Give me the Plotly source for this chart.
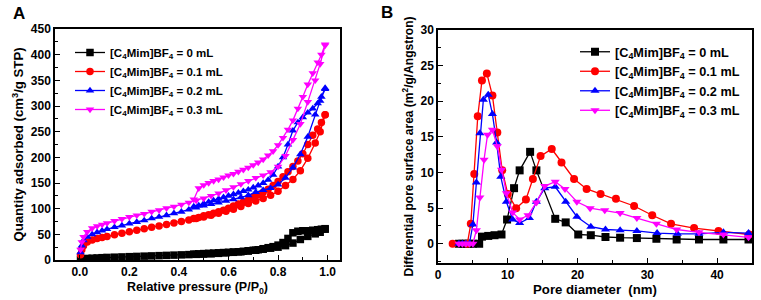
import plotly.graph_objects as go

W, H = 761, 300

# ---------------- Panel A: N2 isotherms ----------------
P_ADS = [0.003, 0.008, 0.015, 0.03, 0.05, 0.07, 0.09, 0.11, 0.14, 0.17, 0.20, 0.23, 0.26,
         0.29, 0.32, 0.35, 0.38, 0.41, 0.44, 0.47, 0.50, 0.53, 0.56, 0.59, 0.62, 0.65, 0.68,
         0.71, 0.74, 0.77, 0.80, 0.83, 0.86, 0.89, 0.92, 0.95, 0.97, 0.99]
P_DES = [0.99, 0.975, 0.96, 0.94, 0.92, 0.90, 0.88, 0.86, 0.84, 0.82, 0.80, 0.78, 0.76, 0.74,
         0.72, 0.70, 0.68, 0.66, 0.64, 0.62, 0.60, 0.58, 0.56, 0.54, 0.52, 0.50, 0.48, 0.46]

ads_0mL = [1, 2, 2.5, 3, 3.5, 4, 4.5, 5, 5.5, 6, 6.5, 7, 7.5, 8, 8.5, 9, 9.5, 10, 10.5, 11,
           11.5, 12, 13, 14, 15, 16, 17.5, 19, 21, 23, 25, 28, 33, 40, 46, 51, 54, 60]
des_0mL = [61, 60, 59, 58, 57, 57, 56, 53, 42, 34, 29, 26, 24, 22, 20, 19, 18, 17, 16, 15.5,
           15, 14.5, 14, 13.5, 13, 12.5, 12, 11.5]

ads_01mL = [10, 20, 28, 35, 39, 42, 44, 46, 49, 52, 55, 58, 61, 64, 66, 69, 72, 75, 78, 81,
            84, 87, 91, 95, 99, 104, 110, 115, 120, 126, 134, 145, 157, 174, 198, 228, 250, 283]
des_01mL = [283, 268, 255, 243, 225, 207, 193, 182, 172, 162, 153, 145, 138, 132, 127, 122,
            117, 113, 109, 105, 101, 97, 94, 91, 88, 86, 83, 81]

ads_02mL = [15, 28, 38, 45, 50, 54, 57, 60, 64, 67, 71, 74, 77, 81, 84, 87, 91, 94, 98, 102,
            106, 109, 112, 115, 118, 122, 126, 132, 136, 140, 147, 160, 180, 206, 240, 283, 310, 333]
des_02mL = [335, 318, 305, 295, 287, 278, 268, 252, 225, 200, 182, 166, 156, 150, 145, 141,
            137, 134, 131, 128, 125, 122, 119, 116, 113, 110, 106, 104]

ads_03mL = [20, 35, 45, 55, 62, 66, 69, 72, 76, 80, 84, 87, 90, 94, 97, 101, 104, 108, 112, 116,
            120, 125, 130, 136, 142, 148, 154, 160, 165, 171, 182, 203, 234, 265, 308, 350, 382, 418]
des_03mL = [420, 400, 385, 364, 342, 318, 295, 272, 254, 238, 224, 212, 204, 196, 190, 185,
            180, 176, 172, 168, 165, 161, 157, 154, 150, 146, 140, 118]

# ---------------- Panel B: pore size distribution ----------------
d_0mL = [3.0, 3.5, 4.0, 4.5, 5.0, 5.9, 6.3, 7.2, 8.1, 9.1, 9.9, 10.9, 11.7, 13.2, 14.1, 16.8,
         18.3, 20.1, 21.9, 24.0, 26.1, 28.5, 31.3, 34.2, 37.4, 40.9, 44.5]
s_0mL = [0, 0, 0, 0, 0, 0, 1.0, 1.1, 1.2, 1.3, 3.4, 7.8, 10.3, 12.9, 10.3, 3.5, 3.0, 1.3, 1.2,
         0.95, 0.85, 0.8, 0.7, 0.6, 0.6, 0.6, 0.6]

d_01mL = [2.1, 4.2, 4.7, 5.2, 5.7, 6.3, 7.0, 7.8, 8.5, 9.2, 10.0, 11.2, 12.6, 13.6, 14.7, 16.3,
          17.7, 19.5, 21.3, 23.3, 25.5, 28.1, 30.7, 33.4, 36.7, 40.2, 44.6]
s_01mL = [0, 0, 2.8, 9.8, 17.9, 22.9, 23.9, 20.8, 15.6, 10.3, 7.0, 5.0, 6.2, 9.1, 12.3, 13.3,
          11.4, 9.1, 7.7, 7.0, 6.3, 5.3, 4.0, 2.8, 2.2, 1.8, 1.3]

d_02mL = [3.0, 3.5, 4.0, 4.5, 5.0, 5.5, 6.0, 6.5, 7.2, 7.8, 8.4, 9.0, 9.8, 10.7, 11.7, 13.1,
          14.1, 15.3, 16.8, 18.3, 19.9, 21.9, 24.0, 26.1, 28.5, 31.4, 34.3, 37.4, 40.9, 44.5]
s_02mL = [0, 0, 0, 0, 2.7, 8.6, 15.5, 20.2, 20.9, 18.2, 14.2, 9.4, 5.9, 3.4, 2.9, 3.6, 5.9, 7.8,
          8.0, 5.9, 3.8, 2.4, 2.0, 1.9, 1.8, 1.5, 1.4, 1.4, 1.6, 1.5]

d_03mL = [3.0, 3.5, 4.0, 4.5, 5.0, 5.5, 6.0, 6.6, 7.1, 7.8, 8.5, 9.1, 9.8, 10.7, 11.7, 12.9,
          14.1, 15.3, 16.8, 18.2, 19.9, 21.8, 23.9, 26.1, 28.5, 31.3, 34.2, 37.4, 40.9, 44.5]
s_03mL = [0, 0, 0, 0, 0, 1.9, 6.5, 11.8, 15.3, 16.0, 13.7, 10.4, 7.1, 4.4, 3.4, 4.0, 5.8, 8.1,
          8.7, 7.7, 5.9, 5.0, 4.7, 4.3, 3.6, 2.8, 2.0, 1.6, 1.3, 0.9]

LABELS = ["[C<sub>4</sub>Mim]BF<sub>4</sub> = 0 mL",
          "[C<sub>4</sub>Mim]BF<sub>4</sub> = 0.1 mL",
          "[C<sub>4</sub>Mim]BF<sub>4</sub> = 0.2 mL",
          "[C<sub>4</sub>Mim]BF<sub>4</sub> = 0.3 mL"]
COLORS = ["#000000", "#FF0000", "#0000FF", "#FF00FF"]
SYMBOLS = ["square", "circle", "triangle-up", "triangle-down"]

FONT = "Arial, Liberation Sans, sans-serif"

fig = go.Figure()

iso = [(ads_0mL, des_0mL), (ads_01mL, des_01mL), (ads_02mL, des_02mL), (ads_03mL, des_03mL)]
for i, (ads, des) in enumerate(iso):
    fig.add_trace(go.Scatter(
        x=P_ADS + P_DES, y=ads + des, mode="lines+markers", name=LABELS[i],
        line=dict(color=COLORS[i], width=1.3),
        marker=dict(symbol=SYMBOLS[i], size=7.5, color=COLORS[i]),
        xaxis="x", yaxis="y", legend="legend"))

psd = [(d_0mL, s_0mL), (d_01mL, s_01mL), (d_02mL, s_02mL), (d_03mL, s_03mL)]
for i, (d, s) in enumerate(psd):
    fig.add_trace(go.Scatter(
        x=d, y=s, mode="lines+markers", name=LABELS[i],
        line=dict(color=COLORS[i], width=1.3),
        marker=dict(symbol=SYMBOLS[i], size=8, color=COLORS[i]),
        xaxis="x2", yaxis="y2", legend="legend2"))


def fnt(size):
    return dict(family=FONT, size=size, color="black", weight="bold")


def axis(domain, rng, dtick, minor_dtick, title, anchor, tsize, fmt=None, standoff=4):
    d = dict(domain=domain, range=rng, dtick=dtick, tick0=0, ticks="inside", ticklen=5,
             tickwidth=1.2, tickcolor="black", showline=True, linecolor="black", linewidth=1.5,
             mirror=True, showgrid=False, zeroline=False, tickfont=fnt(12),
             title=dict(text=title, font=fnt(tsize), standoff=standoff), anchor=anchor,
             minor=dict(ticks="inside", ticklen=3, dtick=minor_dtick, tickcolor="black",
                        tickwidth=1, showgrid=False))
    if fmt:
        d["tickformat"] = fmt
    return d


fig.update_layout(
    width=W, height=H, margin=dict(l=0, r=0, t=0, b=0, autoexpand=False),
    paper_bgcolor="white", plot_bgcolor="white",
    xaxis=axis([55 / W, 340 / W], [-0.1, 1.05], 0.2, 0.1,
               "Relative pressure (P/P<sub>0</sub>)", "y", 12.5, ".1f"),
    yaxis=axis([1 - 260 / H, 1 - 29 / H], [0, 450], 50, 25,
               "Quantity adsorbed (cm<sup>3</sup>/g STP)", "x", 13.2),
    xaxis2=axis([438 / W, 752 / W], [0, 45], 10, 5, "Pore diameter  (nm)", "y2", 13.2),
    yaxis2=axis([1 - 263 / H, 1 - 30 / H], [-2.7, 30], 5, 2.5,
                "Differential pore surface area (m<sup>2</sup>/g/Angstron)", "x2", 12),
    legend=dict(x=70 / W, y=1 - 38 / H, xanchor="left", yanchor="top",
                bgcolor="rgba(0,0,0,0)", itemwidth=30, font=fnt(11.5)),
    legend2=dict(x=575 / W, y=1 - 37 / H, xanchor="left", yanchor="top",
                 bgcolor="rgba(0,0,0,0)", itemwidth=30, font=fnt(12.7)),
    annotations=[
        dict(text="A", x=11 / W, y=1 - 2 / H, xref="paper", yref="paper", xanchor="left",
             yanchor="top", showarrow=False, font=fnt(17)),
        dict(text="B", x=379 / W, y=1 - 1 / H, xref="paper", yref="paper", xanchor="left",
             yanchor="top", showarrow=False, font=fnt(17)),
    ],
)

fig.write_html("out.html", config={"displayModeBar": False},
               post_script="document.body.style.margin='0px';")
